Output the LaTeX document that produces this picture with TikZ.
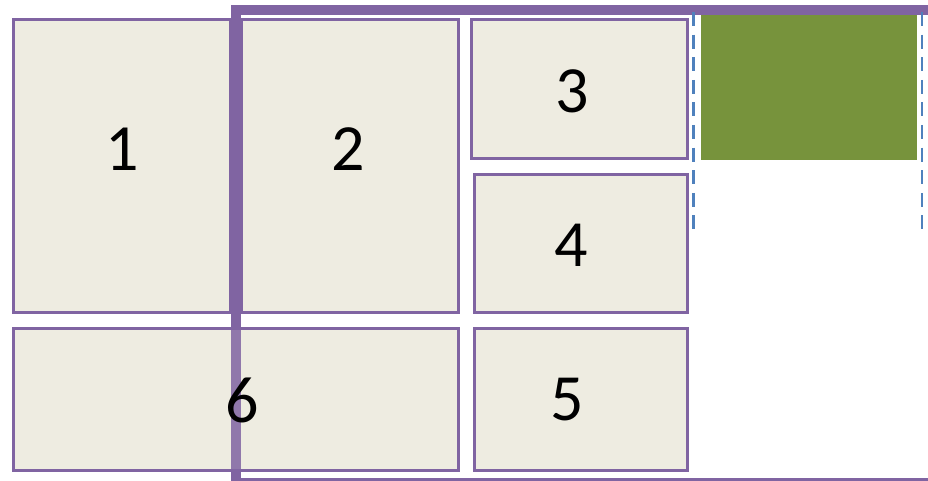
\documentclass[tikz,border=0pt]{standalone}
\usepackage{fontspec}
\setmainfont{Carlito}
\definecolor{panelline}{HTML}{8064A2}
\definecolor{panelfill}{HTML}{EEECE1}
\definecolor{guideblue}{HTML}{4F81BD}
\definecolor{leafgreen}{HTML}{77933C}
\begin{document}
\begin{tikzpicture}[x=1pt, y=-1pt,
        panel/.style={draw=panelline, line width=3pt, fill=panelfill,
                      inner sep=0pt, outer sep=0pt, anchor=north west},
        num/.style={font=\fontsize{66}{66}\selectfont, inner sep=0pt},
        rim/.style={draw=panelline, line width=10pt},
        guide/.style={draw=guideblue, line width=2.5pt,
                      dash pattern=on 14pt off 8.6pt},
    ]
    \useasboundingbox (0,0) rectangle (928,481);

    % outer frame, behind the panels
    \coordinate (rimbot) at (236,481);
    \coordinate (rimtop) at (236,10);
    \coordinate (rimend) at (940,10);
    \draw[rim] (rimbot) -- (rimtop) -- (rimend);
    \draw[panelline, line width=3pt] (241,479.5) -- (940,479.5);

    % panels
    \node[panel, minimum width=217pt, minimum height=293pt] (one) at (13.5,19.5) {};
    \node[panel, minimum width=217pt, minimum height=293pt] (two) at (241.5,19.5) {};
    \node[panel, minimum width=215.5pt, minimum height=139pt] (three) at (471.5,19.5) {};
    \node[panel, minimum width=212.5pt, minimum height=138pt] (four) at (474.5,174.5) {};
    \node[panel, minimum width=212.5pt, minimum height=142pt] (five) at (474.5,328.5) {};
    \node[panel, minimum width=445pt, minimum height=142pt] (six) at (13.5,328.5) {};

    % frame shows through panel 6
    \begin{scope}
        \clip ([xshift=1.5pt, yshift=-1.5pt]six.north west)
            rectangle ([xshift=-1.5pt, yshift=1.5pt]six.south east);
        \draw[rim, draw opacity=.85] (rimbot) -- (rimtop);
    \end{scope}

    \node[num] (n1) at (122,149) {1};
    \node[num] (n2) at (348,149) {2};
    \node[num] (n3) at (572,91) {3};
    \node[num] (n4) at (571,245) {4};
    \node[num] (n5) at (567,400) {5};
    \node[num] (n6) at (242,400) {6};

    % green block and its guides
    \node[fill=leafgreen, inner sep=0pt, outer sep=0pt, anchor=north west,
          minimum width=216pt, minimum height=145pt] (green) at (701,15) {};
    \draw[guide] (693.5,12) -- (693.5,231);
    \draw[guide] (922,12) -- (922,231);
\end{tikzpicture}
\end{document}
